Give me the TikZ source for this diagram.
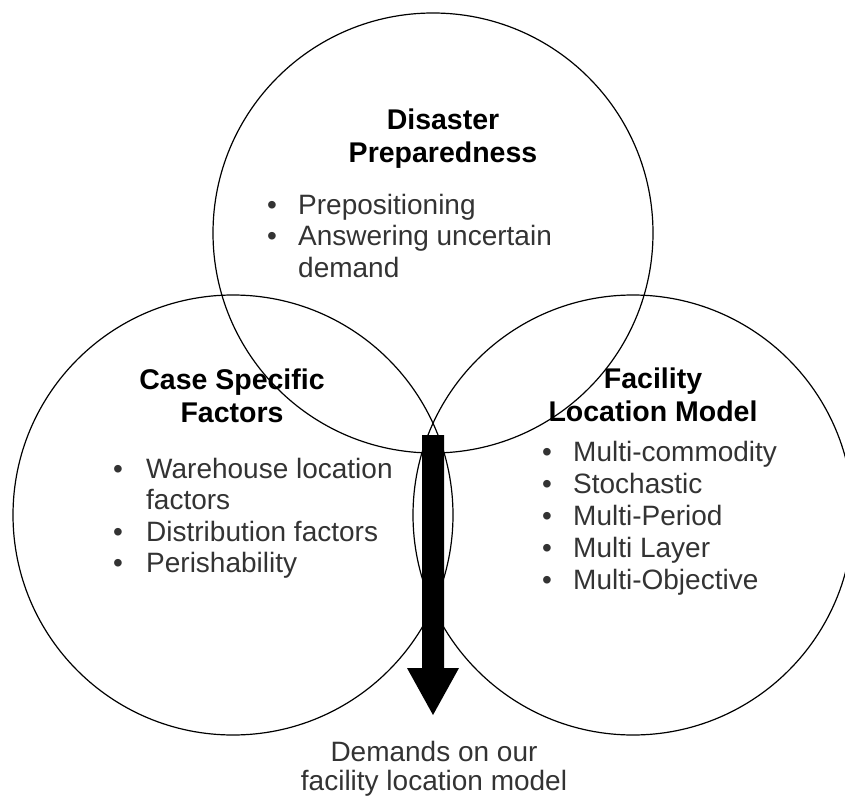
\documentclass[tikz,border=0pt]{standalone}
\usepackage{fontspec}
\setmainfont{Liberation Sans}
\usetikzlibrary{calc}
% bullet mark followed by a fixed indent
\newcommand\listbullet[1][31pt]{\makebox[#1][l]{•}}
\begin{document}
\begin{tikzpicture}[x=1pt,y=-1pt,
  ring/.style={circle,draw=black,line width=1.2pt,minimum size=440pt,inner sep=0pt},
  heading/.style={font=\fontsize{28.5}{33}\selectfont\bfseries,align=center,inner sep=0pt,anchor=north},
  listing/.style={font=\fontsize{28}{31.5}\selectfont,align=left,inner sep=0pt,anchor=north west,text=black!80},
  caption/.style={font=\fontsize{28}{29.5}\selectfont,align=center,inner sep=0pt,anchor=north,text=black!80},
]
\clip (0,0) rectangle (845,799);

% the three overlapping circles
\node[ring] (prep) at (433,233) {};
\node[ring] (case) at (233,515) {};
\node[ring] (flm)  at (633,515) {};

% Disaster Preparedness
\node[heading] (prephead) at (443,105) {\rule{0pt}{24pt}Disaster\\Preparedness};
\node[listing] (preplist) at (267,190) {\rule{0pt}{24pt}\listbullet Prepositioning\\
  \listbullet Answering uncertain\\
  \hspace*{31pt}demand};

% Case Specific Factors
\node[heading] (casehead) at (232,365) {\rule{0pt}{24pt}Case Specific\\Factors};
\node[listing] (caselist) at (113,454) {\rule{0pt}{24pt}\listbullet[33pt]Warehouse location\\
  \hspace*{33pt}factors\\
  \listbullet[33pt]Distribution factors\\
  \listbullet[33pt]Perishability};

% Facility Location Model
\node[heading] (flmhead) at (653,364) {\rule{0pt}{24pt}Facility\\Location Model};
\node[listing,font=\fontsize{28}{32}\selectfont] (flmlist) at (542,437) {\rule{0pt}{24pt}\listbullet Multi-commodity\\
  \listbullet Stochastic\\
  \listbullet Multi-Period\\
  \listbullet Multi Layer\\
  \listbullet Multi-Objective};

% block arrow down to the caption
\coordinate (arrowtop) at (433,435);
\coordinate (arrowtip) at (433,715);
\fill[black] ($(arrowtop)+(-11,0)$) -- ($(arrowtop)+(11,0)$)
  -- ($(arrowtip)+(11,-47)$) -- ($(arrowtip)+(26,-47)$) -- (arrowtip)
  -- ($(arrowtip)+(-26,-47)$) -- ($(arrowtip)+(-11,-47)$) -- cycle;

\node[caption] (demands) at (434,737) {\rule{0pt}{24pt}Demands on our\\facility location model};
\end{tikzpicture}
\end{document}
